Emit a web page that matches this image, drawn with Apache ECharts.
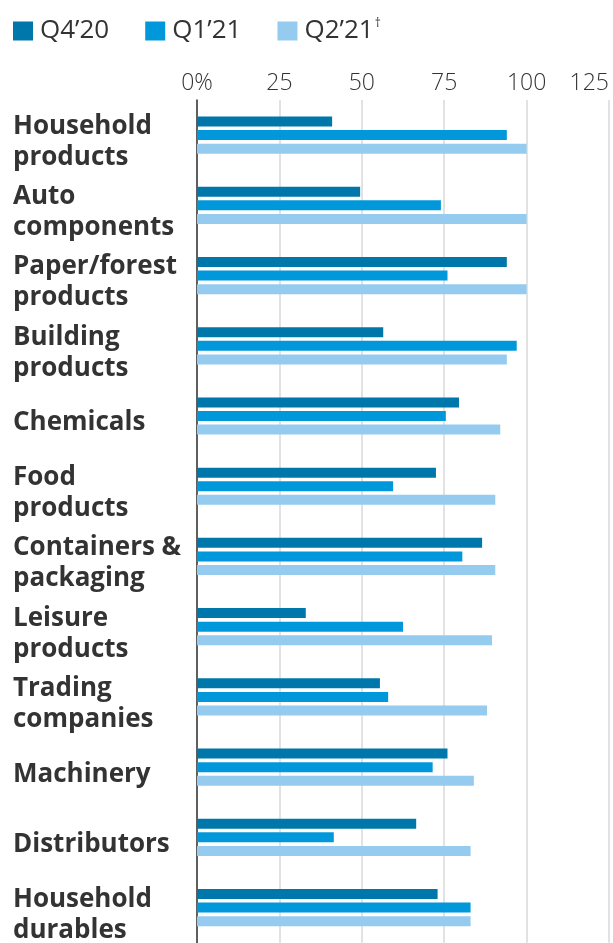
<!DOCTYPE html>
<html>
<head>
<meta charset="utf-8">
<script src="https://cdn.jsdelivr.net/npm/echarts@6/dist/echarts.min.js"></script>
<style>
  html, body { margin: 0; padding: 0; background: #fff; }
  #chart { width: 613px; height: 943px; }
</style>
</head>
<body>
<div id="chart"></div>
<script>
// categories, top to bottom
const categories = [
  'Household\nproducts',
  'Auto\ncomponents',
  'Paper/forest\nproducts',
  'Building\nproducts',
  'Chemicals',
  'Food\nproducts',
  'Containers &\npackaging',
  'Leisure\nproducts',
  'Trading\ncompanies',
  'Machinery',
  'Distributors',
  'Household\ndurables'
]
const seriesNames = ['Q4’20', 'Q1’21', 'Q2’21']
const q420 = [41, 49.5, 94, 56.5, 79.5, 72.5, 86.5, 33, 55.5, 76, 66.5, 73]
const q121 = [94, 74, 76, 97, 75.5, 59.5, 80.5, 62.5, 58, 71.5, 41.5, 83]
const q221 = [100, 100, 100, 94, 92, 90.5, 90.5, 89.5, 88, 84, 83, 83]
const xTicks = [0, 25, 50, 75, 100, 125]

const colors = ['#0077aa', '#0098db', '#95cbee']

const myChart = echarts.init(document.getElementById('chart'))

const makeSeries = (name, data, color) => ({
  name: name,
  type: 'bar',
  barWidth: 10,
  barGap: '36%',
  itemStyle: { color: color },
  emphasis: { disabled: true },
  data: data
})

myChart.setOption({
  animation: false,
  legend: {
    left: 13,
    top: 18,
    padding: 0,
    icon: 'rect',
    itemWidth: 20,
    itemHeight: 19,
    itemGap: 36,
    selectedMode: false,
    data: seriesNames,
    formatter: function (name) {
      // the last quarter carries a footnote dagger
      return name === 'Q2’21' ? '{t|' + name + '}{d|†}' : '{t|' + name + '}'
    },
    textStyle: {
      padding: [0, 0, 0, 2],
      rich: {
        t: { fontFamily: 'Open Sans', fontSize: 26, color: '#333' },
        d: { fontFamily: 'Open Sans', fontSize: 12, color: '#333', verticalAlign: 'top', padding: [0, 0, 14, 1] }
      }
    }
  },
  grid: {
    left: 197,
    right: 4,
    top: 100,
    height: 845,
    containLabel: false
  },
  xAxis: {
    type: 'value',
    position: 'top',
    min: xTicks[0],
    max: xTicks[xTicks.length - 1],
    interval: 25,
    axisLine: { show: false },
    axisTick: { show: false },
    splitLine: {
      show: true,
      lineStyle: { color: '#e2e2e2', width: 2 }
    },
    axisLabel: {
      margin: 5,
      fontFamily: 'Open Sans',
      fontWeight: 300,
      fontSize: 23,
      color: '#333',
      alignMaxLabel: 'right',
      formatter: function (v) {
        return v === 0 ? '0%' : String(v)
      }
    }
  },
  yAxis: {
    type: 'category',
    inverse: true,
    data: categories,
    axisTick: { show: false },
    axisLine: {
      show: true,
      lineStyle: { color: '#333', width: 1.5 }
    },
    axisLabel: {
      interval: 0,
      align: 'left',
      margin: 184,
      // small blank line on top nudges the label block down a bit
      formatter: function (v) {
        return '{s| }\n' + v.split('\n').map(l => '{a|' + l + '}').join('\n')
      },
      rich: {
        s: { fontSize: 10, lineHeight: 14 },
        a: {
          fontFamily: 'Open Sans',
          fontWeight: 'bold',
          fontSize: 26,
          lineHeight: 31,
          color: '#333'
        }
      }
    }
  },
  series: [
    makeSeries(seriesNames[0], q420, colors[0]),
    makeSeries(seriesNames[1], q121, colors[1]),
    makeSeries(seriesNames[2], q221, colors[2])
  ]
})
</script>
</body>
</html>
